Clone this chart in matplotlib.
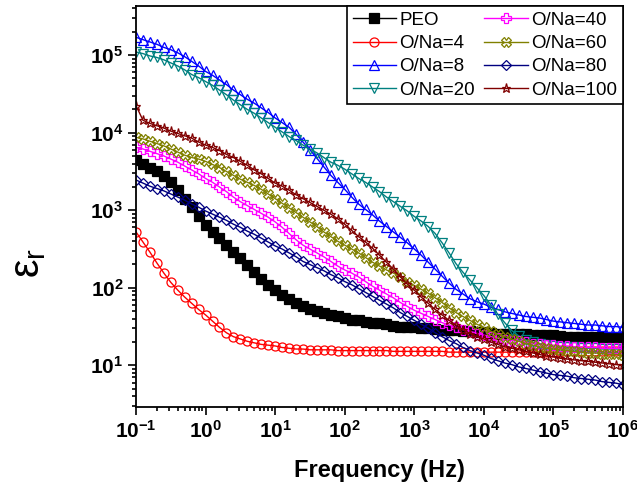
import numpy as np
import matplotlib
matplotlib.use("Agg")
import matplotlib.pyplot as plt
from matplotlib.ticker import LogLocator, FuncFormatter, NullFormatter

plt.rcParams['font.family'] = ['Liberation Sans', 'DejaVu Sans']
plt.rcParams['mathtext.fontset'] = 'custom'
plt.rcParams['mathtext.rm'] = 'Liberation Sans'
plt.rcParams['mathtext.bf'] = 'Liberation Sans:bold'
plt.rcParams['mathtext.it'] = 'Liberation Sans:italic'

# frequency grid, log10(Hz), 0.1 decade steps
logf = np.round(np.arange(-1, 6.001, 0.1), 1)

# log10(eps_r), one row per decade
peo = [3.65, 3.60, 3.55, 3.50, 3.44, 3.36, 3.26, 3.15, 3.04, 2.92,
       2.81, 2.72, 2.64, 2.55, 2.46, 2.38, 2.30, 2.20, 2.11, 2.04,
       1.97, 1.91, 1.85, 1.80, 1.76, 1.73, 1.70, 1.67, 1.65, 1.63,
       1.61, 1.59, 1.58, 1.56, 1.55, 1.54, 1.53, 1.51, 1.50, 1.50,
       1.49, 1.48, 1.48, 1.47, 1.46, 1.45, 1.45, 1.44, 1.44, 1.43,
       1.43, 1.42, 1.41, 1.41, 1.40, 1.40, 1.40, 1.39, 1.39, 1.39,
       1.39, 1.38, 1.37, 1.37, 1.37, 1.37, 1.37, 1.36, 1.36, 1.36,
       1.36]
na4 = [2.72, 2.59, 2.46, 2.32, 2.19, 2.07, 1.97, 1.88, 1.80, 1.72,
       1.65, 1.57, 1.49, 1.42, 1.37, 1.34, 1.31, 1.29, 1.27, 1.26,
       1.25, 1.23, 1.22, 1.21, 1.21, 1.20, 1.20, 1.20, 1.20, 1.19,
       1.19, 1.19, 1.19, 1.19, 1.19, 1.19, 1.19, 1.18, 1.18, 1.18,
       1.18, 1.18, 1.18, 1.18, 1.18, 1.17, 1.17, 1.17, 1.17, 1.17,
       1.17, 1.17, 1.17, 1.17, 1.17, 1.17, 1.17, 1.17, 1.17, 1.17,
       1.17, 1.17, 1.18, 1.18, 1.18, 1.18, 1.18, 1.18, 1.18, 1.18,
       1.18]
na8 = [5.23, 5.20, 5.17, 5.14, 5.10, 5.07, 5.03, 4.98, 4.92, 4.86,
       4.79, 4.74, 4.68, 4.62, 4.55, 4.49, 4.43, 4.38, 4.32, 4.26,
       4.19, 4.13, 4.07, 3.98, 3.88, 3.78, 3.67, 3.56, 3.45, 3.36,
       3.27, 3.17, 3.08, 3.01, 2.94, 2.86, 2.79, 2.72, 2.65, 2.58,
       2.50, 2.42, 2.33, 2.24, 2.15, 2.06, 1.98, 1.92, 1.86, 1.82,
       1.79, 1.75, 1.72, 1.69, 1.67, 1.65, 1.63, 1.62, 1.61, 1.59,
       1.57, 1.56, 1.55, 1.54, 1.53, 1.52, 1.52, 1.51, 1.50, 1.50,
       1.49]
na20 = [5.04, 5.02, 4.99, 4.97, 4.94, 4.90, 4.86, 4.81, 4.75, 4.71,
        4.66, 4.61, 4.55, 4.49, 4.42, 4.36, 4.30, 4.25, 4.19, 4.13,
        4.07, 4.01, 3.95, 3.90, 3.84, 3.79, 3.74, 3.68, 3.62, 3.58,
        3.53, 3.47, 3.41, 3.36, 3.30, 3.24, 3.17, 3.11, 3.05, 2.99,
        2.92, 2.86, 2.79, 2.70, 2.58, 2.45, 2.31, 2.20, 2.10, 2.00,
        1.90, 1.78, 1.66, 1.55, 1.45, 1.38, 1.33, 1.30, 1.28, 1.26,
        1.25, 1.24, 1.23, 1.23, 1.22, 1.22, 1.22, 1.21, 1.21, 1.21,
        1.21]
na40 = [3.81, 3.79, 3.76, 3.73, 3.70, 3.66, 3.62, 3.57, 3.52, 3.47,
        3.41, 3.36, 3.30, 3.24, 3.17, 3.11, 3.06, 3.01, 2.96, 2.91,
        2.85, 2.78, 2.70, 2.62, 2.55, 2.50, 2.45, 2.40, 2.34, 2.28,
        2.23, 2.19, 2.14, 2.08, 2.02, 1.97, 1.92, 1.87, 1.81, 1.76,
        1.71, 1.67, 1.63, 1.59, 1.55, 1.52, 1.49, 1.46, 1.44, 1.41,
        1.39, 1.37, 1.35, 1.33, 1.32, 1.31, 1.30, 1.28, 1.27, 1.26,
        1.26, 1.25, 1.25, 1.24, 1.23, 1.23, 1.23, 1.22, 1.22, 1.22,
        1.22]
na60 = [3.94, 3.92, 3.89, 3.86, 3.83, 3.79, 3.75, 3.71, 3.68, 3.66,
        3.63, 3.59, 3.55, 3.50, 3.45, 3.40, 3.36, 3.32, 3.27, 3.21,
        3.15, 3.09, 3.03, 2.97, 2.91, 2.85, 2.79, 2.72, 2.66, 2.60,
        2.55, 2.50, 2.45, 2.39, 2.33, 2.28, 2.23, 2.19, 2.14, 2.08,
        2.03, 1.98, 1.93, 1.87, 1.81, 1.74, 1.68, 1.63, 1.58, 1.53,
        1.49, 1.44, 1.40, 1.37, 1.34, 1.31, 1.28, 1.26, 1.24, 1.22,
        1.21, 1.20, 1.19, 1.18, 1.17, 1.16, 1.16, 1.15, 1.14, 1.14,
        1.13]
na80 = [3.39, 3.35, 3.31, 3.28, 3.25, 3.21, 3.17, 3.13, 3.08, 3.04,
        2.99, 2.95, 2.91, 2.87, 2.82, 2.78, 2.73, 2.69, 2.64, 2.59,
        2.54, 2.50, 2.45, 2.40, 2.34, 2.30, 2.26, 2.22, 2.17, 2.13,
        2.08, 2.04, 1.99, 1.94, 1.89, 1.84, 1.79, 1.74, 1.68, 1.63,
        1.58, 1.53, 1.48, 1.42, 1.37, 1.32, 1.28, 1.23, 1.19, 1.16,
        1.13, 1.09, 1.06, 1.03, 1.01, 0.98, 0.96, 0.94, 0.92, 0.90,
        0.88, 0.87, 0.86, 0.84, 0.83, 0.82, 0.81, 0.79, 0.78, 0.77,
        0.75]
na100 = [4.35, 4.16, 4.12, 4.09, 4.06, 4.02, 3.99, 3.96, 3.93, 3.88,
         3.84, 3.81, 3.77, 3.72, 3.68, 3.63, 3.58, 3.52, 3.47, 3.41,
         3.35, 3.31, 3.26, 3.20, 3.15, 3.10, 3.05, 3.00, 2.95, 2.89,
         2.82, 2.74, 2.66, 2.59, 2.51, 2.42, 2.33, 2.24, 2.14, 2.05,
         1.97, 1.88, 1.80, 1.72, 1.65, 1.58, 1.52, 1.46, 1.41, 1.37,
         1.34, 1.30, 1.27, 1.24, 1.22, 1.20, 1.18, 1.16, 1.14, 1.12,
         1.11, 1.09, 1.08, 1.07, 1.06, 1.05, 1.04, 1.03, 1.02, 1.01,
         1.00]

labels = ['PEO', 'O/Na=4', 'O/Na=8', 'O/Na=20', 'O/Na=40', 'O/Na=60', 'O/Na=80', 'O/Na=100']
series = [peo, na4, na8, na20, na40, na60, na80, na100]
colors = ['#000000', '#FF0000', '#0000FF', '#008080', '#FF00FF', '#808000', '#000080', '#800000']
markers = ['s', 'o', '^', 'v', 'P', 'X', 'D', '*']

fig = plt.figure(figsize=(6.37, 4.93), dpi=100)
ax = fig.add_axes([0.2135, 0.1744, 0.7645, 0.8134])

f = 10.0 ** logf
for y, lab, c, m in zip(series, labels, colors, markers):
    filled = (m == 's')
    ax.plot(f, 10.0 ** np.array(y), color=c, lw=1.0, marker=m,
            ms=6.5 if m != 'D' else 5.0,
            mfc=c if filled else 'none', mec=c, mew=0.9, label=lab)

ax.set_xscale('log')
ax.set_yscale('log')
ax.set_xlim(0.1, 1e6)
ax.set_ylim(2.9, 4.3e5)

fmt = FuncFormatter(lambda v, p: r'$\mathbf{10^{%d}}$' % round(np.log10(v)))
for axis in (ax.xaxis, ax.yaxis):
    axis.set_major_locator(LogLocator(base=10, numticks=20))
    axis.set_minor_locator(LogLocator(base=10, subs=np.arange(2, 10), numticks=20))
    axis.set_major_formatter(fmt)
    axis.set_minor_formatter(NullFormatter())

ax.tick_params(which='both', direction='out', top=False, right=False, width=1.2)
ax.tick_params(which='major', length=6, labelsize=15, pad=3)
ax.tick_params(which='minor', length=3)
for s in ax.spines.values():
    s.set_linewidth(1.3)

ax.set_xlabel('Frequency (Hz)', fontsize=17, fontweight='bold', labelpad=13)
ax.set_ylabel(r'ε$_\mathregular{r}$', fontsize=30)
ax.yaxis.set_label_coords(-0.18, 0.36)

leg = ax.legend(ncol=2, loc='upper right', borderaxespad=0, fontsize=13.5,
                numpoints=1, handlelength=2.3, handletextpad=0.2,
                columnspacing=0.5, labelspacing=0.33, borderpad=0.3,
                fancybox=False, framealpha=1, edgecolor='black')
leg.get_frame().set_linewidth(1.2)

fig.savefig('out.png', dpi=100)
